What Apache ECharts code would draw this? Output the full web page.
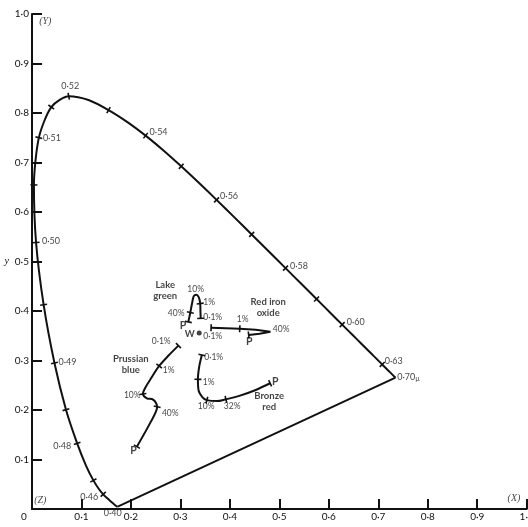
<!DOCTYPE html>
<html><head><meta charset="utf-8">
<script src="https://cdn.jsdelivr.net/npm/echarts@6/dist/echarts.min.js"></script>
<style>html,body{margin:0;padding:0;background:#fff}#c{width:528px;height:527px}</style>
</head><body><div id="c"></div>
<script>
// ---------- data ----------
const axisTickValues = [0,0.1,0.2,0.3,0.4,0.5,0.6,0.7,0.8,0.9,1.0];
const axisTickLabels = ['0','0·1','0·2','0·3','0·4','0·5','0·6','0·7','0·8','0·9','1·0'];

// spectral locus (wavelength in µ, chromaticity x, y)
const locusWavelength = [0.400,0.405,0.410,0.415,0.420,0.425,0.430,0.435,0.440,0.445,0.450,0.455,0.460,0.465,0.470,0.475,0.480,0.485,0.490,0.495,0.500,0.505,0.510,0.515,0.520,0.525,0.530,0.535,0.540,0.545,0.550,0.555,0.560,0.565,0.570,0.575,0.580,0.585,0.590,0.595,0.600,0.605,0.610,0.615,0.620,0.625,0.630,0.635,0.640,0.645,0.650,0.660,0.670,0.680,0.700];
const locusX = [0.1733,0.1730,0.1726,0.1721,0.1714,0.1703,0.1689,0.1669,0.1644,0.1611,0.1566,0.1510,0.1440,0.1355,0.1241,0.1096,0.0913,0.0687,0.0454,0.0235,0.0082,0.0039,0.0139,0.0389,0.0743,0.1142,0.1547,0.1929,0.2296,0.2658,0.3016,0.3373,0.3731,0.4087,0.4441,0.4788,0.5125,0.5448,0.5752,0.6029,0.6270,0.6482,0.6658,0.6801,0.6915,0.7006,0.7079,0.7140,0.7190,0.7230,0.7260,0.7300,0.7320,0.7334,0.7347];
const locusY = [0.0048,0.0048,0.0048,0.0048,0.0051,0.0058,0.0069,0.0086,0.0109,0.0138,0.0177,0.0227,0.0297,0.0399,0.0578,0.0868,0.1327,0.2007,0.2950,0.4127,0.5384,0.6548,0.7502,0.8120,0.8338,0.8262,0.8059,0.7816,0.7543,0.7243,0.6923,0.6589,0.6245,0.5896,0.5547,0.5202,0.4866,0.4544,0.4242,0.3965,0.3725,0.3514,0.3340,0.3197,0.3083,0.2993,0.2920,0.2859,0.2809,0.2770,0.2740,0.2700,0.2680,0.2666,0.2653];
const locusTickWavelengths = [0.460,0.470,0.480,0.485,0.490,0.495,0.500,0.505,0.510,0.515,0.520,0.530,0.540,0.550,0.560,0.570,0.580,0.590,0.600,0.630];
const locusLabelWavelengths = [0.400,0.460,0.480,0.490,0.500,0.510,0.520,0.540,0.560,0.580,0.600,0.630,0.700];
const locusLabelTexts = ['0·40','0·46','0·48','0·49','0·50','0·51','0·52','0·54','0·56','0·58','0·60','0·63','0·70{s|µ}'];

// pigment mixing curves
const lakeGreenX = [0.341,0.3405,0.340,0.337,0.332,0.327,0.3235,0.320,0.316];
const lakeGreenY = [0.385,0.400,0.415,0.428,0.433,0.430,0.415,0.397,0.378];
const lakeGreenTicks = [0,2,7,8];
const lakeGreenLabels = ['10%','1%','40%','P','0·1%'];
const lakeGreenLabelX = [0.3309,0.3582,0.2915,0.3051,0.3653];
const lakeGreenLabelY = [0.4444,0.4168,0.3954,0.3697,0.3873];

const redOxideX = [0.362,0.392,0.420,0.452,0.482,0.460,0.438];
const redOxideY = [0.366,0.365,0.364,0.362,0.358,0.354,0.3515];
const redOxideTicks = [0,2,6];
const redOxideLabels = ['1%','40%','P','0·1%'];
const redOxideLabelX = [0.4259,0.5036,0.4390,0.3653];
const redOxideLabelY = [0.3832,0.3630,0.3380,0.3495];

const prussianX = [0.296,0.276,0.257,0.240,0.229,0.2242,0.2323,0.2424,0.249,0.253,0.240,0.212];
const prussianY = [0.330,0.310,0.289,0.263,0.245,0.2323,0.2236,0.2222,0.2168,0.2065,0.176,0.126];
const prussianTicks = [0,2,5,9,11];
const prussianLabels = ['0·1%','1%','10%','40%','P'];
const prussianLabelX = [0.2612,0.2764,0.2026,0.2794,0.2053];
const prussianLabelY = [0.3394,0.2808,0.2303,0.1933,0.1178];

const bronzeX = [0.3434,0.338,0.3354,0.3366,0.3447,0.3535,0.3737,0.392,0.4174,0.451,0.4814];
const bronzeY = [0.311,0.2875,0.262,0.240,0.2256,0.220,0.218,0.2216,0.228,0.240,0.254];
const bronzeTicks = [0,2,5,7,10];
const bronzeLabels = ['0·1%','1%','10%','32%','P'];
const bronzeLabelX = [0.3673,0.3572,0.3521,0.4046,0.4915];
const bronzeLabelY = [0.3065,0.2552,0.2081,0.2067,0.2572];

const curveNames = ['Lake\ngreen','Red iron\noxide','Prussian\nblue','Bronze\nred'];
const curveNameX = [0.2693,0.4774,0.1996,0.4794];
const curveNameY = [0.4414,0.4071,0.2915,0.2168];

const whitePoint = [0.338,0.3556];
const whiteLabel = 'W';

const primaryLabels = ['(Y)','(X)','(Z)'];
const primaryLabelX = [0.0269,0.9743,0.0168];
const primaryLabelY = [0.9859,0.0222,0.0182];

// ---------- styling ----------
const INK = '#111';
const TXT = '#111';
const SANS = 'Lato, "Liberation Sans", sans-serif';
const SERIF = '"Liberation Serif", "DejaVu Serif", serif';
// label offsets (pixels) for locus labels, same order as locusLabelWavelengths
const locusLabelOffsets = [[-5,6],[-14,3],[-15,3],[13,-1],[15,-1],[13,0],[1.5,-10],[13,-4],[12.5,-4],[13.5,-2.5],[13.5,-3],[11.5,-3],[13,-1]];

function zip(xs, ys){ return xs.map((x,i)=>[x, ys[i]]); }
function tickItems(xs, ys, idxs){
  return idxs.map(i=>{
    const a = Math.max(0,i-1), b = Math.min(xs.length-1,i+1);
    return [xs[i], ys[i], xs[a], ys[a], xs[b], ys[b]];
  });
}
function tickSeries(items, half, width){
  return {
    type:'custom', coordinateSystem:'cartesian2d', silent:true, z:5,
    encode:{x:0,y:1}, data:items, clip:false,
    renderItem(params, api){
      const p = api.coord([api.value(0), api.value(1)]);
      const a = api.coord([api.value(2), api.value(3)]);
      const b = api.coord([api.value(4), api.value(5)]);
      let dx=b[0]-a[0], dy=b[1]-a[1]; const L=Math.hypot(dx,dy)||1; dx/=L; dy/=L;
      return {type:'line', shape:{x1:p[0]-dy*half, y1:p[1]+dx*half, x2:p[0]+dy*half, y2:p[1]-dx*half},
        style:{stroke:INK, lineWidth:width}};
    }
  };
}
function lineSeries(xs, ys, smooth, width){
  return {type:'line', data:zip(xs,ys), showSymbol:false, symbol:'none', smooth:smooth,
    lineStyle:{color:INK, width:width}, silent:true, z:3, clip:false};
}
function textSeries(texts, xs, ys, font){
  return {type:'scatter', symbolSize:0, silent:true, z:6, clip:false,
    data: texts.map((t,i)=>({value:[xs[i],ys[i]], name:t})),
    label:{show:true, position:'inside', color:TXT,
      formatter: p => p.name === 'P' ? '{p|P}' : p.name,
      rich:{p:{fontFamily:font.family, fontSize:font.size+2, fontWeight:'bold', color:TXT}},
      fontFamily:font.family, fontSize:font.size, fontStyle:font.style||'normal',
      fontWeight:font.weight||'normal', lineHeight:font.lineHeight||font.size+1,
      align:'center', verticalAlign:'middle'}};
}

// locus ticks
const locusIdx = w => locusWavelength.findIndex(v=>Math.abs(v-w)<1e-6);
const locusTickItems = tickItems(locusX, locusY, locusTickWavelengths.map(locusIdx));
const locusLabelData = locusLabelWavelengths.map((w,i)=>{
  const k = locusIdx(w);
  return {value:[locusX[k], locusY[k]], name:locusLabelTexts[i],
    label:{offset:locusLabelOffsets[i]}};
});

const chart = echarts.init(document.getElementById('c'), null, {renderer:'canvas'});
const baseAxis = {
  type:'value', min:0, max:1, interval:0.1,
  axisLine:{show:true, onZero:false, lineStyle:{color:INK, width:2}},
  axisTick:{show:true, inside:true, length:10, lineStyle:{color:INK, width:2}},
  splitLine:{show:false},
  nameTextStyle:{fontFamily:SERIF, fontStyle:'italic', fontSize:10, color:TXT}
};
chart.setOption({
  animation:false,
  backgroundColor:'#fff',
  grid:{left:32, right:1.3, top:14, bottom:18, containLabel:false, outerBoundsMode:'none'},
  xAxis:Object.assign({}, baseAxis, {
    name:'x', nameLocation:'middle', nameGap:13,
    axisLabel:{margin:3, fontSize:10, color:TXT, fontFamily:SANS, showMaxLabel:true, showMinLabel:true,
      formatter:v=>{const k=Math.round(v*10); return k===0?'{z|'+axisTickLabels[0]+'}':axisTickLabels[k];},
      rich:{z:{fontSize:10, fontFamily:SANS, color:TXT, padding:[0,16,0,0]}}}
  }),
  yAxis:Object.assign({}, baseAxis, {
    name:'y', nameLocation:'middle', nameGap:21, nameRotate:0,
    axisLabel:{margin:3, fontSize:10, color:TXT, fontFamily:SANS, showMaxLabel:true,
      formatter:v=>{const k=Math.round(v*10); return k===0?'':axisTickLabels[k];}}
  }),
  series:[
    lineSeries(locusX, locusY, 0.25, 2),
    lineSeries([locusX[0], locusX[locusX.length-1]], [locusY[0], locusY[locusY.length-1]], false, 2),
    tickSeries(locusTickItems, 3.5, 1.6),
    {type:'scatter', symbolSize:0, silent:true, z:6, clip:false, data:locusLabelData,
      label:{show:true, position:'inside', formatter:'{b}', color:TXT, fontFamily:SANS, fontSize:9,
        rich:{s:{fontSize:7, fontFamily:SANS, color:TXT, padding:[4,0,0,0]}}}},
    lineSeries(lakeGreenX, lakeGreenY, 0.35, 2),
    tickSeries(tickItems(lakeGreenX, lakeGreenY, lakeGreenTicks), 3.5, 1.6),
    textSeries(lakeGreenLabels, lakeGreenLabelX, lakeGreenLabelY, {family:SANS, size:8.5}),
    lineSeries(redOxideX, redOxideY, false, 2),
    tickSeries(tickItems(redOxideX, redOxideY, redOxideTicks), 3.5, 1.6),
    textSeries(redOxideLabels, redOxideLabelX, redOxideLabelY, {family:SANS, size:8.5}),
    lineSeries(prussianX, prussianY, 0.3, 2),
    tickSeries(tickItems(prussianX, prussianY, prussianTicks), 3.5, 1.6),
    textSeries(prussianLabels, prussianLabelX, prussianLabelY, {family:SANS, size:8.5}),
    lineSeries(bronzeX, bronzeY, 0.35, 2),
    tickSeries(tickItems(bronzeX, bronzeY, bronzeTicks), 3.5, 1.6),
    textSeries(bronzeLabels, bronzeLabelX, bronzeLabelY, {family:SANS, size:8.5}),
    textSeries(curveNames, curveNameX, curveNameY, {family:SANS, size:9.5, lineHeight:11, weight:'bold'}),
    {type:'scatter', symbol:'circle', symbolSize:5, itemStyle:{color:INK}, silent:true, z:6,
      data:[{value:whitePoint, name:whiteLabel}],
      label:{show:true, position:'left', distance:2, formatter:'{b}', color:TXT, fontFamily:SANS, fontSize:9.5, fontWeight:'bold', offset:[0,1]}},
    textSeries(primaryLabels, primaryLabelX, primaryLabelY, {family:SERIF, size:10, style:'italic'})
  ]
});
</script></body></html>
